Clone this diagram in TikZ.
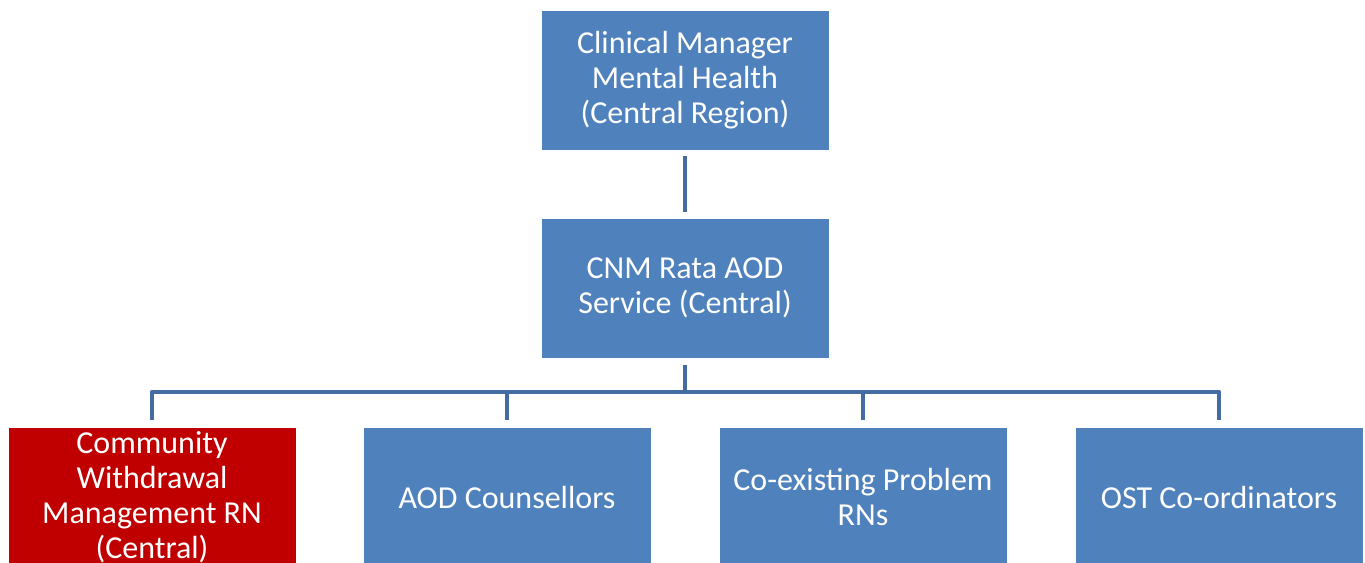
\documentclass[tikz,border=0pt]{standalone}
\usepackage{fontspec}
\setmainfont{Carlito}
\usetikzlibrary{calc,positioning}
\definecolor{boxblue}{RGB}{79,129,189}
\definecolor{boxred}{RGB}{192,0,0}
\definecolor{linkblue}{RGB}{68,108,163}
\tikzset{
  post/.style     = {rectangle, draw=white, line width=0.5pt, fill=boxblue,
                     text=white, align=center, inner sep=2pt,
                     minimum width=216pt, minimum height=105pt,
                     font=\fontsize{24}{26.3}\selectfont},
  post red/.style = {post, fill=boxred},
  link/.style     = {draw=linkblue, line width=3.4pt, line join=round},
}

\begin{document}
\begin{tikzpicture}[x=0.75pt,y=-0.75pt]
  \useasboundingbox (0,0) rectangle (1365,562);
  \clip (0,0) rectangle (1365,562);

  % top levels
  \node[post] (clin) at (685,80) {Clinical Manager\\Mental Health\\(Central Region)};
  \node[post] (cnm)  at (685,288) {CNM Rata AOD\\Service (Central)};

  % team members
  \node[post red] (cwm) at (152,497) {Community\\Withdrawal\\Management RN\\(Central)};
  \node[post] (aod) at (507,497) {AOD Counsellors};
  \node[post] (cep) at (863,497) {Co-existing Problem\\RNs};
  \node[post] (ost) at (1219,497) {OST Co-ordinators};

  \coordinate (bus) at (685,392);

  % connectors
  \draw[link] ([yshift=-4.5pt]clin.south) -- ([yshift=4.5pt]cnm.north);
  \foreach \kid in {cwm,aod,cep,ost}
    \draw[link] ([yshift=-5pt]cnm.south) -- (cnm.south |- bus) -| ([yshift=5pt]\kid.north);
\end{tikzpicture}
\end{document}
